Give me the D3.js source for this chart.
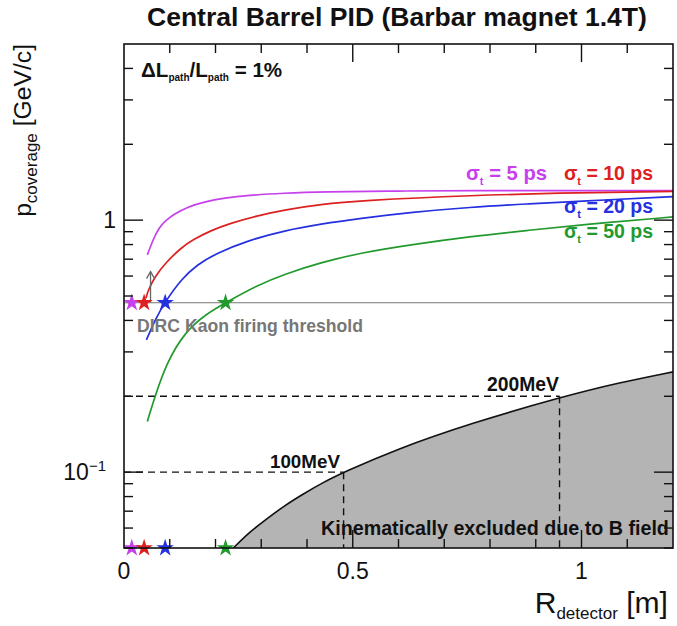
<!DOCTYPE html>
<html><head><meta charset="utf-8">
<script src="https://cdn.jsdelivr.net/npm/d3@7"></script>
<style>
body{margin:0;background:#fff;}
text{font-family:"Liberation Sans",Arial,Helvetica,sans-serif;}
</style></head>
<body><svg id="c" width="677" height="626"></svg>
<script>
// ---------- data ----------
const xTickValues = [0, 0.5, 1];
const xTickLabels = ["0", "0.5", "1"];
const yMajorTicks = [0.1, 1];
const yMinorTicks = [0.05,0.06,0.07,0.08,0.09,0.2,0.3,0.4,0.5,0.6,0.7,0.8,0.9,2,3,4];

const seriesNames = ["σt = 5 ps", "σt = 10 ps", "σt = 20 ps", "σt = 50 ps"];
const sigma5R  = [0.051,0.065,0.077,0.092,0.109,0.14,0.174,0.22,0.271,0.35,0.433,0.6,0.756,1.0,1.2];
const sigma5P  = [0.728,0.85,0.935,1.0,1.055,1.13,1.18,1.225,1.255,1.28,1.295,1.305,1.31,1.31,1.31];
const sigma10R = [0.048,0.053,0.068,0.09,0.126,0.15,0.19,0.231,0.29,0.352,0.43,0.514,0.756,1.0,1.2];
const sigma10P = [0.49,0.529,0.597,0.675,0.78,0.835,0.91,0.97,1.04,1.1,1.155,1.195,1.255,1.285,1.30];
const sigma20R = [0.049,0.07,0.09,0.126,0.16,0.199,0.27,0.352,0.43,0.514,0.63,0.756,0.88,1.0,1.2];
const sigma20P = [0.335,0.41,0.474,0.585,0.665,0.735,0.83,0.91,0.965,1.015,1.075,1.125,1.16,1.19,1.24];
const sigma50R = [0.051,0.069,0.093,0.133,0.18,0.222,0.29,0.352,0.43,0.514,0.63,0.756,0.88,1.0,1.2];
const sigma50P = [0.159,0.203,0.271,0.36,0.425,0.47,0.55,0.612,0.678,0.74,0.80,0.86,0.91,0.958,1.03];
const seriesColors = ["#c640ec", "#dd2020", "#2530e0", "#229a2e"];

const starR = [0.017, 0.044, 0.09, 0.222];     // stars on threshold and on the axis
const thresholdP = 0.47;                        // DIRC kaon threshold
const arrowR = 0.058, arrowTopP = 0.625;

const boundaryR = [0.239,0.275,0.311,0.35,0.392,0.435,0.481,0.594,0.756,0.962,1.08,1.2];
const boundaryP = [0.05,0.058,0.065,0.0735,0.082,0.091,0.1,0.123,0.156,0.2,0.226,0.25];

const refP = [0.1, 0.2];
const refR = [0.48, 0.952];
const refLabels = ["100MeV", "200MeV"];

// ---------- layout ----------
const svg = d3.select("#c");
const L = 124, R = 673, T = 44, B = 548;
const x = d3.scaleLinear().domain([0, 1.2]).range([L, R]);
const y = d3.scaleLog().domain([0.05, 5]).range([B, T]);

function fit(sel, w){ const n = sel.node(); const cur = n.getComputedTextLength(); const fs = parseFloat(sel.attr("font-size")); sel.attr("font-size", fs * w / cur); return sel; }

const defs = svg.append("defs");
defs.append("clipPath").attr("id","clip").append("rect").attr("x",L).attr("y",T).attr("width",R-L).attr("height",B-T);

const plot = svg.append("g").attr("clip-path","url(#clip)");

// shaded excluded region
const bpts = boundaryR.map((r,i)=>[r, boundaryP[i]]);
const area = d3.area().x(d=>x(d[0])).y0(B).y1(d=>y(d[1])).curve(d3.curveBasis);
plot.append("path").datum(bpts).attr("d", area).attr("fill","#b4b4b4");
plot.append("path").datum(bpts).attr("d", d3.line().x(d=>x(d[0])).y(d=>y(d[1])).curve(d3.curveBasis))
  .attr("fill","none").attr("stroke","#111").attr("stroke-width",1.6);

// dashed reference lines
refP.forEach((p,i)=>{
  plot.append("line").attr("x1",x(0)).attr("x2",x(refR[i])).attr("y1",y(p)).attr("y2",y(p))
    .attr("stroke","#111").attr("stroke-width",1.4).attr("stroke-dasharray","7,5");
  plot.append("line").attr("x1",x(refR[i])).attr("x2",x(refR[i])).attr("y1",y(p)).attr("y2",B)
    .attr("stroke","#111").attr("stroke-width",1.4).attr("stroke-dasharray","7,5");
});

// threshold line
plot.append("line").attr("x1",L).attr("x2",R).attr("y1",y(thresholdP)).attr("y2",y(thresholdP))
  .attr("stroke","#777").attr("stroke-width",1.2);

// curves
const allR = [sigma5R, sigma10R, sigma20R, sigma50R];
const allP = [sigma5P, sigma10P, sigma20P, sigma50P];
const line = d3.line().x(d=>x(d[0])).y(d=>y(d[1])).curve(d3.curveBasis);
[3,2,0,1].forEach(i=>{
  const pts = allR[i].map((r,j)=>[r, allP[i][j]]);
  plot.append("path").datum(pts).attr("d", line).attr("fill","none")
    .attr("stroke", seriesColors[i]).attr("stroke-width",1.7);
});

// arrow
const ax = x(arrowR), ay0 = y(thresholdP), ay1 = y(arrowTopP);
svg.append("line").attr("x1",ax).attr("x2",ax).attr("y1",ay0).attr("y2",ay1).attr("stroke","#666").attr("stroke-width",1.3);
svg.append("path").attr("d",`M${ax-4},${ay1+7}L${ax},${ay1}L${ax+4},${ay1+7}`).attr("fill","none").attr("stroke","#666").attr("stroke-width",1.3);

// stars
const star = d3.symbol().type(d3.symbolStar).size(95);
starR.forEach((r,i)=>{
  [thresholdP, 0.05].forEach(p=>{
    svg.append("path").attr("d", star()).attr("transform",`translate(${x(r)},${y(p)})`)
      .attr("fill", seriesColors[i]);
  });
});

// frame
svg.append("rect").attr("x",L).attr("y",T).attr("width",R-L).attr("height",B-T)
  .attr("fill","none").attr("stroke","#111").attr("stroke-width",1.6);

// ticks
const tk = svg.append("g").attr("stroke","#111").attr("stroke-width",1.4);
const xMinor = d3.range(1,12).map(v=>v/10);
xMinor.forEach(v=>{
  const len = (Math.abs(v-0.5)<1e-9 || Math.abs(v-1)<1e-9) ? 18 : 9;
  tk.append("line").attr("x1",x(v)).attr("x2",x(v)).attr("y1",B).attr("y2",B-len);
  tk.append("line").attr("x1",x(v)).attr("x2",x(v)).attr("y1",T).attr("y2",T+len);
});
yMinorTicks.forEach(v=>{
  tk.append("line").attr("x1",L).attr("x2",L+9).attr("y1",y(v)).attr("y2",y(v));
  tk.append("line").attr("x1",R).attr("x2",R-9).attr("y1",y(v)).attr("y2",y(v));
});
yMajorTicks.forEach(v=>{
  tk.append("line").attr("x1",L).attr("x2",L+19).attr("y1",y(v)).attr("y2",y(v));
  tk.append("line").attr("x1",R).attr("x2",R-19).attr("y1",y(v)).attr("y2",y(v));
});

// tick labels
xTickValues.forEach((v,i)=>{
  svg.append("text").attr("x",x(v)).attr("y",579).attr("text-anchor","middle")
    .attr("font-size",23).attr("fill","#111").text(xTickLabels[i]);
});
svg.append("text").attr("x",116).attr("y",y(1)+8).attr("text-anchor","end").attr("font-size",23).attr("fill","#111").text("1");
const tm = svg.append("text").attr("x",106).attr("y",y(0.1)+8).attr("text-anchor","end").attr("font-size",23).attr("fill","#111");
tm.append("tspan").text("10");
tm.append("tspan").attr("dy",-9).attr("font-size",15).text("−1");

// axis titles
const xt = svg.append("text").attr("x",668).attr("y",613).attr("text-anchor","end").attr("font-size",25).attr("fill","#111");
xt.append("tspan").text("R");
xt.append("tspan").attr("font-size",17).attr("dy",6).text("detector");
xt.append("tspan").attr("dy",-6).text(" [m]");
fit(xt, 146);

const yt = svg.append("text").attr("transform","translate(31,44) rotate(-90)").attr("text-anchor","end").attr("font-size",25).attr("fill","#111");
yt.append("tspan").text("p");
yt.append("tspan").attr("font-size",17).attr("dy",6).text("coverage");
yt.append("tspan").attr("dy",-6).text(" [GeV/c]");
fit(yt, 172);

// title
const title = svg.append("text").attr("x",147).attr("y",26).attr("font-size",18).attr("font-weight","bold").attr("fill","#111")
  .text("Central Barrel PID (Barbar magnet 1.4T)");
fit(title, 500);

// annotation
const an = svg.append("text").attr("x",141).attr("y",77).attr("font-size",15).attr("font-weight","bold").attr("fill","#111");
an.append("tspan").text("ΔL");
an.append("tspan").attr("font-size",10).attr("dy",4).text("path");
an.append("tspan").attr("dy",-4).text("/L");
an.append("tspan").attr("font-size",10).attr("dy",4).text("path");
an.append("tspan").attr("dy",-4).text(" = 1%");
fit(an, 157);

// series labels
const labPos = [[466,180],[564,180],[564,213],[564,238]];
seriesNames.forEach((s,i)=>{
  const t = svg.append("text").attr("x",labPos[i][0]).attr("y",labPos[i][1]).attr("font-size",16)
    .attr("font-weight","bold").attr("fill",seriesColors[i]);
  t.append("tspan").text("σ");
  t.append("tspan").attr("font-size",11).attr("dy",5).text("t");
  t.append("tspan").attr("dy",-5).text(s.slice(2));
  fit(t, i===0 ? 82 : 90);
});

// other labels
fit(svg.append("text").attr("x",137).attr("y",332).attr("font-size",15).attr("font-weight","bold").attr("fill","#777")
  .text("DIRC Kaon firing threshold"), 226);
fit(svg.append("text").attr("x",270).attr("y",468).attr("font-size",14).attr("font-weight","bold").attr("fill","#111")
  .text(refLabels[0]), 70);
fit(svg.append("text").attr("x",487).attr("y",391).attr("font-size",14).attr("font-weight","bold").attr("fill","#111")
  .text(refLabels[1]), 72);
fit(svg.append("text").attr("x",321).attr("y",535).attr("font-size",15).attr("font-weight","bold").attr("fill","#111")
  .text("Kinematically excluded due to B field"), 348);
</script></body></html>
